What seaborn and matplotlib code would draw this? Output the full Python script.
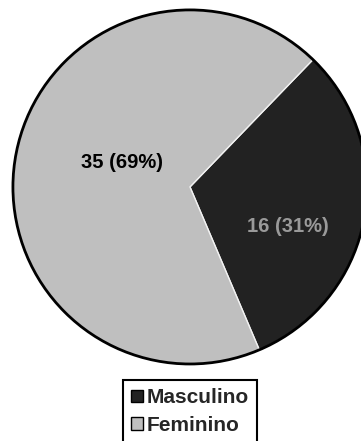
import matplotlib
matplotlib.use("Agg")
import matplotlib.pyplot as plt
from matplotlib.patches import Circle
import seaborn as sns

# Data
categories = ["Masculino", "Feminino"]
counts = [16, 35]
slice_colors = ["#222222", "#bfbfbf"]
label_colors = ["#9a9a9a", "#000000"]

sns.set_theme(style="white")
plt.rcParams["font.family"] = ["Liberation Sans", "DejaVu Sans"]

fig = plt.figure(figsize=(3.61, 4.41), dpi=100)
ax = fig.add_axes([0, 0, 1, 1])

total = sum(counts)
wedges, _ = ax.pie(
    counts,
    colors=slice_colors,
    startangle=46,
    counterclock=False,
    radius=1.0,
    wedgeprops=dict(edgecolor="#f2f2f2", linewidth=1.0),
)
# outer rim of the pie
ax.add_patch(Circle((0, 0), 1.0, fill=False, edgecolor="black", linewidth=2.0, zorder=5))

# value labels: "n (p%)"
label_pos = [(0.555, -0.226), (-0.385, 0.136)]
for v, (x, y), c in zip(counts, label_pos, label_colors):
    ax.text(x, y, f"{v} ({v / total:.0%})", ha="center", va="center",
            fontsize=14.5, fontweight="bold", color=c, zorder=6)

# place the pie: centre near the upper part, slightly cut on the right
ax.set_xlim(-1.073, 0.966)
ax.set_ylim(-1.435, 1.056)
ax.set_aspect("auto")
ax.axis("off")

leg = fig.legend(
    wedges, categories,
    loc="upper left",
    bbox_to_anchor=(123 / 361, 1 - 380 / 441),
    borderaxespad=0,
    frameon=True,
    fancybox=False,
    edgecolor="black",
    framealpha=1,
    prop=dict(size=15, weight="bold"),
    handlelength=0.58,
    handleheight=0.58,
    handletextpad=0.15,
    borderpad=0.4,
    labelspacing=0.4,
)
leg.get_frame().set_linewidth(1.5)
for h in leg.legend_handles:
    h.set_edgecolor("black")
    h.set_linewidth(1.0)

fig.savefig("out.png", dpi=100)
